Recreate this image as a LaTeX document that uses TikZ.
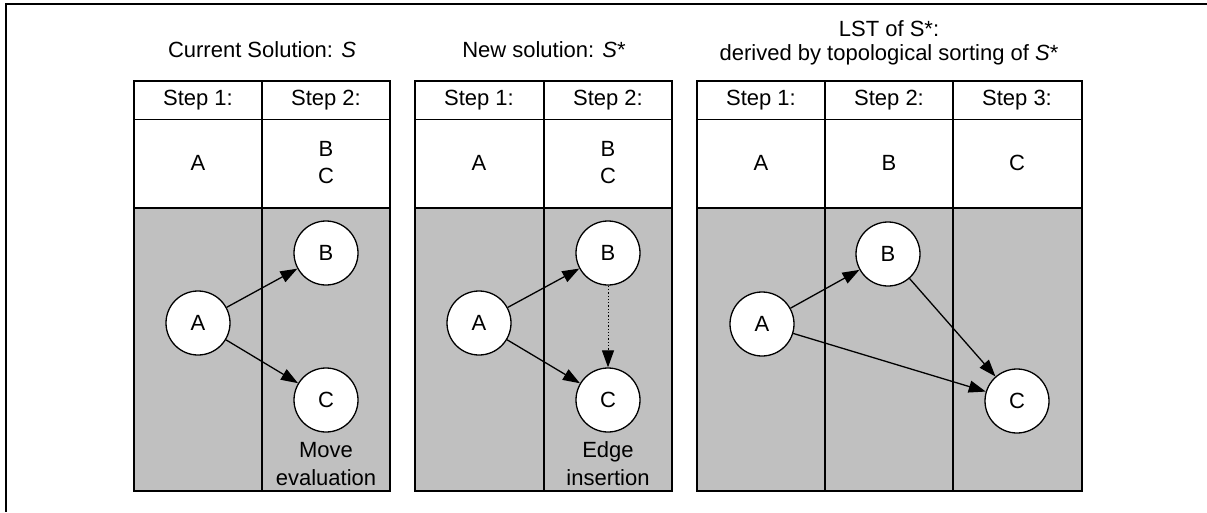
\documentclass[tikz,border=0pt]{standalone}
\usepackage{fontspec}
\setmainfont{Liberation Sans}
\usetikzlibrary{arrows.meta}
\definecolor{panelgray}{RGB}{192,192,192}
\begin{document}
\begin{tikzpicture}[x=1pt,y=-1pt,
  txt/.style={font=\fontsize{22}{27}\selectfont, inner sep=0pt, align=center},
  lbl/.style={font=\fontsize{22}{28}\selectfont, inner sep=0pt, align=center},
  vertex/.style={circle, draw, line width=1.3pt, fill=white, minimum size=64pt, inner sep=0pt, font=\fontsize{22}{27}\selectfont},
  edge/.style={line width=1.3pt, -{Triangle[length=17pt,width=12pt]}},
  grid/.style={line width=1.6pt},
]
\useasboundingbox (0,0) rectangle (1207,512);
\draw[grid] (1207,4) -- (6,4) -- (6,512);

% ---------- panel 1
\fill[white] (134,80.7) rectangle (390,208);
\fill[panelgray] (134,208) rectangle (390,490.7);
\draw[grid] (134,80.7) rectangle (390,490.7);
\draw[grid] (134,119.3) -- (390,119.3) (134,208) -- (390,208) (262,80.7) -- (262,490.7);
\node[txt] (t1) at (262,50) {Current Solution: \textit{S}};
\node[txt] (h11) at (198,100) {Step 1:};
\node[txt] (h12) at (326,100) {Step 2:};
\node[txt] (c11) at (198,163) {A};
\node[txt] (c12) at (326,163) {B\\C};
\node[vertex] (a1) at (198,323) {A};
\node[vertex] (b1) at (326,253) {B};
\node[vertex] (cc1) at (326,400) {C};
\draw[edge] (a1) -- (b1);
\draw[edge] (a1) -- (cc1);
\node[lbl] (m1) at (326,464) {Move\\evaluation};

% ---------- panel 2
\fill[white] (415,80.7) rectangle (672,208);
\fill[panelgray] (415,208) rectangle (672,490.7);
\draw[grid] (415,80.7) rectangle (672,490.7);
\draw[grid] (415,119.3) -- (672,119.3) (415,208) -- (672,208) (544,80.7) -- (544,490.7);
\node[txt] (t2) at (544,50) {New solution: \textit{S}*};
\node[txt] (h21) at (479,100) {Step 1:};
\node[txt] (h22) at (608,100) {Step 2:};
\node[txt] (c21) at (479,163) {A};
\node[txt] (c22) at (608,163) {B\\C};
\node[vertex] (a2) at (479,323) {A};
\node[vertex] (b2) at (608,253) {B};
\node[vertex] (cc2) at (608,400) {C};
\draw[edge] (a2) -- (b2);
\draw[edge] (a2) -- (cc2);
\draw[edge, dotted, line width=1pt] (b2) -- (cc2);
\node[lbl] (m2) at (608,464) {Edge\\insertion};

% ---------- panel 3
\fill[white] (697,80.7) rectangle (1082,208);
\fill[panelgray] (697,208) rectangle (1082,490.7);
\draw[grid] (697,80.7) rectangle (1082,490.7);
\draw[grid] (697,119.3) -- (1082,119.3) (697,208) -- (1082,208)
  (825,80.7) -- (825,490.7) (953,80.7) -- (953,490.7);
\node[txt, font=\fontsize{22}{24}\selectfont] (t3) at (889,43) {LST of S*:\\derived by topological sorting of \textit{S}*};
\node[txt] (h31) at (761,100) {Step 1:};
\node[txt] (h32) at (889,100) {Step 2:};
\node[txt] (h33) at (1017,100) {Step 3:};
\node[txt] (c31) at (761,163) {A};
\node[txt] (c32) at (889,163) {B};
\node[txt] (c33) at (1017,163) {C};
\node[vertex] (a3) at (762,324) {A};
\node[vertex] (b3) at (888,254) {B};
\node[vertex] (cc3) at (1017,401) {C};
\draw[edge] (a3) -- (b3);
\draw[edge] (a3) -- (cc3);
\draw[edge] (b3) -- (cc3);
\end{tikzpicture}
\end{document}
